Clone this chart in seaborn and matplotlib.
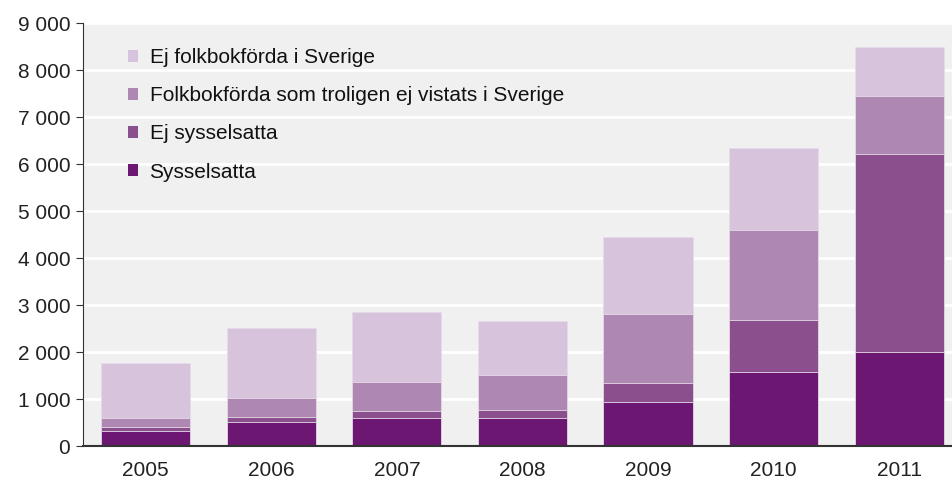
import numpy as np
import pandas as pd
import matplotlib
matplotlib.use("Agg")
import matplotlib.pyplot as plt
import seaborn as sns
from matplotlib.patches import Patch

years = ["2005", "2006", "2007", "2008", "2009", "2010", "2011"]
sysselsatta = [326, 518, 604, 604, 945, 1578, 2011]
ej_sysselsatta = [80, 100, 150, 170, 398, 1102, 4200]
folkbok_ej_vistats = [190, 412, 618, 740, 1465, 1926, 1230]
ej_folkbokforda = [1180, 1480, 1486, 1158, 1648, 1727, 1060]

labels = ["Sysselsatta", "Ej sysselsatta",
          "Folkbokförda som troligen ej vistats i Sverige",
          "Ej folkbokförda i Sverige"]
colors = ["#6c1771", "#8a4f8c", "#ae87b2", "#d7c3dc"]

df = pd.DataFrame({"year": years,
                   labels[0]: sysselsatta,
                   labels[1]: ej_sysselsatta,
                   labels[2]: folkbok_ej_vistats,
                   labels[3]: ej_folkbokforda})
cum = df[labels].cumsum(axis=1)

sns.set_style("white")
plt.rcParams["font.family"] = ["Liberation Sans", "DejaVu Sans"]

fig, ax = plt.subplots(figsize=(9.52, 4.8), dpi=100)
fig.subplots_adjust(left=0.087, right=1.0, top=0.952, bottom=0.07)
ax.set_facecolor("#f0f0f0")

# draw cumulative totals, tallest first, so each layer shows as a stacked segment
for lab, col in reversed(list(zip(labels, colors))):
    sns.barplot(x=df["year"], y=cum[lab], color=col, width=0.71,
                edgecolor="#e6dbe8", linewidth=0.6, ax=ax, saturation=1)

ax.set_ylim(0, 9000)
ax.set_xlim(-0.5, 6.42)
ax.set_yticks(range(0, 9001, 1000))
ax.set_yticklabels([f"{v:,}".replace(",", " ") for v in range(0, 9001, 1000)])
ax.yaxis.grid(True, color="white", linewidth=2)
ax.set_axisbelow(True)
ax.set_xlabel("")
ax.set_ylabel("")
for s in ["top", "right"]:
    ax.spines[s].set_visible(False)
ax.spines["left"].set_color("#333333")
ax.spines["bottom"].set_color("#333333")
ax.spines["bottom"].set_linewidth(1.5)
ax.tick_params(axis="y", left=True, length=5, color="#333333", labelsize=15,
               labelcolor="#222222", pad=4)
ax.tick_params(axis="x", bottom=False, labelsize=15, labelcolor="#222222", pad=7)

handles = [Patch(facecolor=c, edgecolor="none") for c in reversed(colors)]
ax.legend(handles, list(reversed(labels)), loc="upper left", frameon=False,
          fontsize=15, handlelength=0.5, handleheight=0.5, handletextpad=0.55,
          labelspacing=0.92, bbox_to_anchor=(0.03, 0.985), labelcolor="#111111")

fig.savefig("out.png", dpi=100)
